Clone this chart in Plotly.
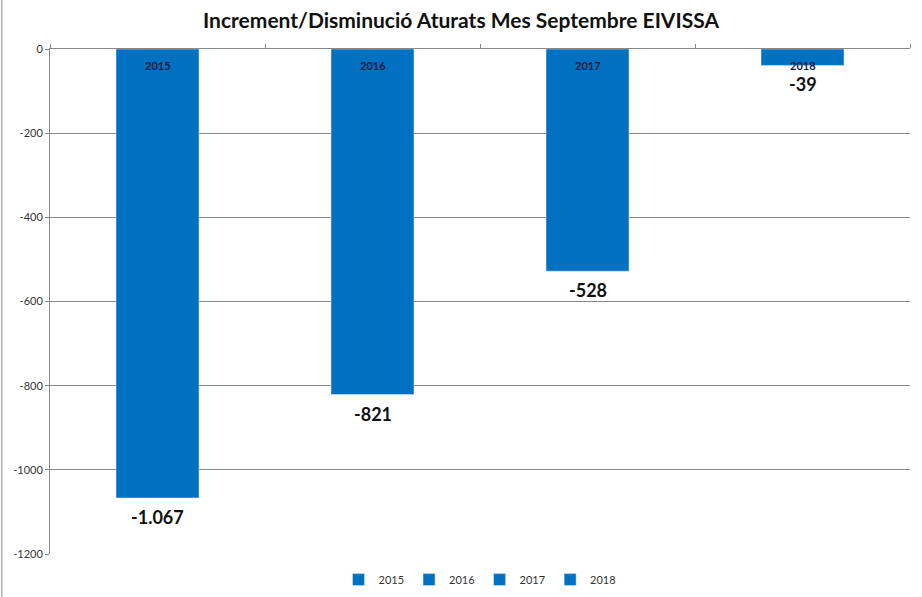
import plotly.graph_objects as go

YEARS = ["2015", "2016", "2017", "2018"]
VALUES = [-1067, -821, -528, -39]
Y_TICKS = [0, -200, -400, -600, -800, -1000, -1200]
BAR_COLOR = "#0070C0"
TITLE = "Increment/Disminució Aturats Mes Septembre EIVISSA"

FONT = "Lato"


def fmt(v):
    # spanish style thousands separator, plain hyphen minus
    return "{:,}".format(v).replace(",", ".")


FIG = go.Figure()
for i, (year, value) in enumerate(zip(YEARS, VALUES)):
    FIG.add_trace(
        go.Bar(x=[year], y=[value], name=year, marker_color=BAR_COLOR))
    # year label just inside the top of each bar (category index as x)
    FIG.add_annotation(x=i,
                       y=0,
                       yanchor="top",
                       yshift=-8,
                       text="<b>" + year + "</b>",
                       showarrow=False,
                       font=dict(family=FONT, size=11, color="#1a1a40"))
    # value label under the bar end
    FIG.add_annotation(x=i,
                       y=value,
                       yanchor="top",
                       yshift=-6,
                       text="<b>" + fmt(value) + "</b>",
                       showarrow=False,
                       font=dict(family=FONT, size=18, color="#111111"))

FIG.update_layout(
    width=922,
    height=597,
    barmode="overlay",
    bargap=0.614,
    plot_bgcolor="white",
    paper_bgcolor="white",
    margin=dict(l=50, r=12, t=49, b=43, autoexpand=False),
    title=dict(text="<b>" + TITLE + "</b>",
               x=0.5,
               xanchor="center",
               y=0.965,
               yanchor="middle",
               font=dict(family=FONT, size=21, color="#111111")),
    legend=dict(orientation="h",
                x=0.5,
                xanchor="center",
                y=-0.022,
                yanchor="top",
                font=dict(family=FONT, size=11, color="#333333"),
                itemwidth=30,
                traceorder="normal"),
    showlegend=True,
)
FIG.update_xaxes(type="category",
                 range=[-0.5, len(YEARS) - 0.5],
                 side="top",
                 showticklabels=False,
                 ticks="outside",
                 tickson="boundaries",
                 ticklen=4,
                 tickcolor="#888888",
                 showline=True,
                 linecolor="#888888",
                 showgrid=False,
                 automargin=False)
FIG.update_yaxes(range=[-1200, 0],
                 tickvals=Y_TICKS,
                 ticktext=[str(t) for t in Y_TICKS],
                 ticks="outside",
                 ticklen=4,
                 tickcolor="#888888",
                 showline=True,
                 linecolor="#888888",
                 gridcolor="#888888",
                 zeroline=False,
                 automargin=False,
                 tickfont=dict(family=FONT, size=11, color="#333333"))
# chart area border on the left
FIG.add_shape(type="line",
              xref="paper",
              yref="paper",
              x0=-0.056,
              x1=-0.056,
              y0=-0.09,
              y1=1.1,
              line=dict(color="#888888", width=1))
FIG.write_html("out.html",
               config={"displayModeBar": False},
               post_script="document.body.style.margin='0';")
